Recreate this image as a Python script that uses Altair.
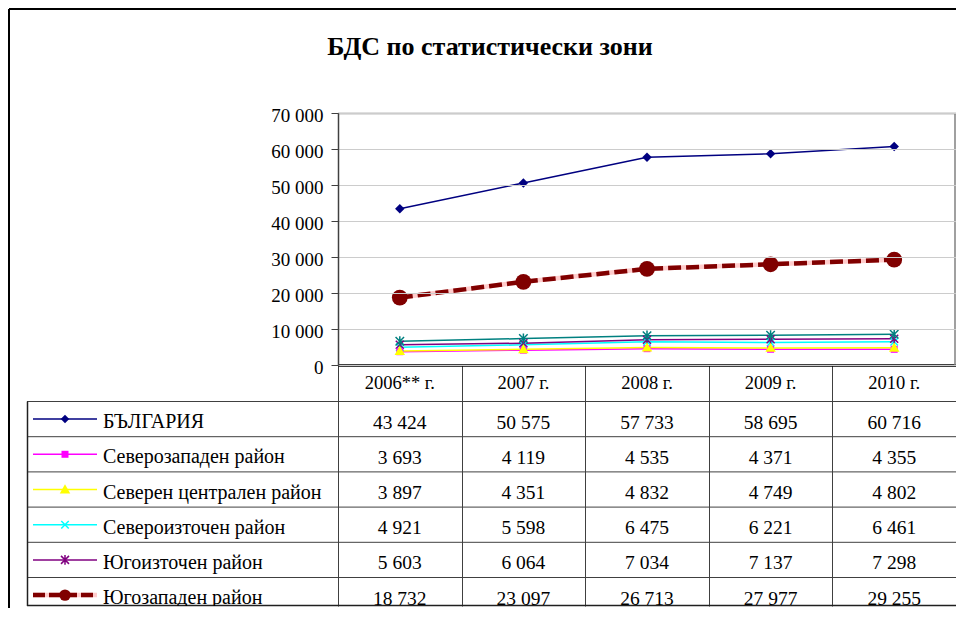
import altair as alt
import pandas as pd

FONT = "Liberation Serif"

title_text = "БДС по статистически зони"
year_labels = ["2006** г.", "2007 г.", "2008 г.", "2009 г.", "2010 г."]
series_names = [
    "БЪЛГАРИЯ",
    "Северозападен район",
    "Северен централен район",
    "Североизточен район",
    "Югоизточен район",
    "Югозападен район",
    "Южен централен район",
]
bulgaria = [43424, 50575, 57733, 58695, 60716]
severozapaden = [3693, 4119, 4535, 4371, 4355]
severen_centralen = [3897, 4351, 4832, 4749, 4802]
severoiztochen = [4921, 5598, 6475, 6221, 6461]
yugoiztochen = [5603, 6064, 7034, 7137, 7298]
yugozapaden = [18732, 23097, 26713, 27977, 29255]
yuzhen_centralen = [6578, 7346, 8144, 8240, 8545]

colors = ["#000080", "#FF00FF", "#FFFF00", "#00FFFF", "#800080", "#800000", "#008080"]

diamond = "M0,-1L1,0L0,1L-1,0Z"
square = "M-1,-1L1,-1L1,1L-1,1Z"
triangle = "M0,-1L1,0.75L-1,0.75Z"
xmark = "M-1,-1L1,1M-1,1L1,-1"
star = "M-1,-1L1,1M-1,1L1,-1M0,-1.2L0,1.2"
shapes = [diamond, square, triangle, xmark, star, "circle", star]
plot_sizes = [90, 49, 110, 56, 64, 250, 72]
legend_sizes = [72, 49, 110, 56, 64, 130, 64]

filled_series = [series_names[i] for i in (0, 1, 2, 5)]
stroked_series = [series_names[i] for i in (3, 4, 6)]
SW = series_names[5]

all_values = [bulgaria, severozapaden, severen_centralen, severoiztochen,
              yugoiztochen, yugozapaden, yuzhen_centralen]
rows = []
for name, vals in zip(series_names, all_values):
    for yl, v in zip(year_labels, vals):
        rows.append({"series": name, "year": yl, "value": v,
                     "label": f"{v:,}".replace(",", " ")})
df = pd.DataFrame(rows)
series_df = pd.DataFrame({"series": series_names})
years_df = pd.DataFrame({"year": year_labels})
one = pd.DataFrame({"a": [0]})
title_df = pd.DataFrame({"t": [title_text]})

# layout (view origin = top-left corner of the table's legend column)
W, H = 929, 493
PX0 = 311          # plot area left
PH = 252           # plot area height
ROW0, ROWH = 288.5, 35.2

XS = alt.Scale(type="band", domain=year_labels, range=[PX0, W], paddingInner=0, paddingOuter=0)
x_axis = alt.Axis(orient="bottom", offset=-(H - PH), labels=False, title=None, grid=False,
                  tickBand="extent", tickSize=H - PH, tickColor="#404040", tickWidth=1,
                  domainColor="#000000", domainWidth=2.5)
X = alt.X("year:N", scale=XS, axis=x_axis, title=None)

YS = alt.Scale(domain=[0, 70000], range=[PH, 0], nice=False)
y_axis = alt.Axis(orient="left", offset=-PX0, values=list(range(0, 70001, 10000)),
                  tickSize=7, tickColor="#404040", tickWidth=1,
                  domainColor="#404040", domainWidth=1.5,
                  grid=True, gridColor="#cccccc", gridWidth=1,
                  labelFont=FONT, labelFontSize=19, labelColor="black", labelPadding=8,
                  labelOffset=2, zindex=1,
                  labelExpr="replace(format(datum.value, ','), ',', ' ')", title=None)
Y = alt.Y("value:Q", scale=YS, axis=y_axis, title=None)

TY = alt.Scale(type="band", domain=series_names, range=[ROW0, ROW0 + 7 * ROWH],
               paddingInner=0, paddingOuter=0)
TYe = alt.Y("series:N", scale=TY, axis=None)

C = alt.Color("series:N", scale=alt.Scale(domain=series_names, range=colors), legend=None)
SH = alt.Shape("series:N", scale=alt.Scale(type="ordinal", domain=series_names, range=shapes), legend=None)
SZp = alt.Size("series:N", scale=alt.Scale(type="ordinal", domain=series_names, range=plot_sizes), legend=None)
SZl = alt.Size("series:N", scale=alt.Scale(type="ordinal", domain=series_names, range=legend_sizes), legend=None)

base = alt.Chart(df)

frame_top = alt.Chart(one).mark_rule(color="#808080", strokeWidth=1.5).encode(
    x=alt.value(PX0), x2=alt.value(W), y=alt.value(0.5))
frame_right = alt.Chart(one).mark_rule(color="#808080", strokeWidth=1.5).encode(
    x=alt.value(W - 1), y=alt.value(0), y2=alt.value(PH))

lines = base.transform_filter(alt.datum.series != SW).mark_line(strokeWidth=1.5).encode(
    x=X, y=Y, color=C, detail="series:N")
sw_under = base.transform_filter(alt.datum.series == SW).mark_line(
    color="#FFCCCC", strokeWidth=4.5).encode(x=X, y=Y)
sw_dash = base.transform_filter(alt.datum.series == SW).mark_line(
    color="#800000", strokeWidth=4.5, strokeDash=[13, 5]).encode(x=X, y=Y)
pts_f = base.transform_filter(alt.FieldOneOfPredicate(field="series", oneOf=filled_series)).mark_point(
    filled=True, opacity=1, strokeWidth=0).encode(x=X, y=Y, color=C, shape=SH, size=SZp)
pts_s = base.transform_filter(alt.FieldOneOfPredicate(field="series", oneOf=stroked_series)).mark_point(
    filled=False, opacity=1, strokeWidth=1.5).encode(x=X, y=Y, color=C, shape=SH, size=SZp)

plot = alt.layer(frame_top, frame_right, lines, sw_under, sw_dash, pts_s, pts_f)

sbase = alt.Chart(series_df)
row_lines = sbase.mark_rule(color="#404040", strokeWidth=1, clip=True).encode(
    y=alt.Y("series:N", scale=TY, axis=None, bandPosition=0), x=alt.value(0), x2=alt.value(W))
left_border = alt.Chart(one).mark_rule(color="#202020", strokeWidth=1.5).encode(
    x=alt.value(0.5), y=alt.value(ROW0), y2=alt.value(H))
bottom_border = alt.Chart(one).mark_rule(color="#202020", strokeWidth=1.5).encode(
    x=alt.value(0), x2=alt.value(W), y=alt.value(H - 0.5))
key_lines = sbase.transform_filter(alt.datum.series != SW).mark_rule(strokeWidth=1.5, clip=True).encode(
    x=alt.value(6), x2=alt.value(70), y=TYe, color=C)
key_sw_under = sbase.transform_filter(alt.datum.series == SW).mark_rule(
    color="#FFCCCC", strokeWidth=4.5, clip=True).encode(x=alt.value(6), x2=alt.value(70), y=TYe)
key_sw_dash = sbase.transform_filter(alt.datum.series == SW).mark_rule(
    color="#800000", strokeWidth=4.5, strokeDash=[12, 4], clip=True).encode(
    x=alt.value(6), x2=alt.value(70), y=TYe)
key_pts_f = sbase.transform_filter(alt.FieldOneOfPredicate(field="series", oneOf=filled_series)).mark_point(
    filled=True, opacity=1, strokeWidth=0, clip=True).encode(
    x=alt.value(38), y=TYe, color=C, shape=SH, size=SZl)
key_pts_s = sbase.transform_filter(alt.FieldOneOfPredicate(field="series", oneOf=stroked_series)).mark_point(
    filled=False, opacity=1, strokeWidth=1.5, clip=True).encode(
    x=alt.value(38), y=TYe, color=C, shape=SH, size=SZl)
key_text = sbase.mark_text(align="left", baseline="middle", font=FONT, fontSize=20,
                           color="black", clip=True, dy=3).encode(
    x=alt.value(76), y=TYe, text="series:N")
num_text = base.mark_text(align="center", baseline="middle", font=FONT, fontSize=19.5,
                          color="black", clip=True, dy=3.5).encode(
    x=X, y=TYe, text="label:N")
header_text = alt.Chart(years_df).mark_text(align="center", baseline="middle", font=FONT,
                                            fontSize=18.5, color="black").encode(
    x=X, y=alt.value(PH + 18), text="year:N")

table = alt.layer(row_lines, left_border, bottom_border, key_sw_under, key_sw_dash, key_lines,
                  key_pts_s, key_pts_f, key_text, num_text, header_text)

outer_top = alt.Chart(one).mark_rule(color="#000000", strokeWidth=2).encode(
    x=alt.value(-18), x2=alt.value(W), y=alt.value(-104))
outer_left = alt.Chart(one).mark_rule(color="#000000", strokeWidth=2).encode(
    x=alt.value(-18), y=alt.value(-104), y2=alt.value(H + 2))
title_mark = alt.Chart(title_df).mark_text(align="center", baseline="alphabetic", font=FONT,
                                           fontSize=26, fontWeight="bold", color="black").encode(
    x=alt.value(463), y=alt.value(-58), text="t:N")

# mask the stray light frame of the cell in the empty corner left of the plot
mask_h = alt.Chart(one).mark_rule(color="white", strokeWidth=3).encode(
    x=alt.value(-1.5), x2=alt.value(PX0 - 8), y=alt.value(0))
mask_v = alt.Chart(one).mark_rule(color="white", strokeWidth=3).encode(
    x=alt.value(0), y=alt.value(-1.5), y2=alt.value(ROW0 - 1))

no_stroke = alt.ViewBackground(stroke="transparent", strokeWidth=0, fill="transparent")

chart = alt.layer(plot, table, outer_top, outer_left, title_mark, mask_h, mask_v).resolve_scale(
    y="independent", size="independent"
).properties(
    width=W, height=H,
    background="white",
    view=no_stroke,
    autosize=alt.AutoSizeParams(type="none"),
    padding={"left": 19, "top": 105, "right": 0, "bottom": 2},
).configure(
    view=alt.ViewConfig(stroke="transparent", strokeWidth=0),
    style={"cell": {"stroke": "transparent", "strokeWidth": 0}},
)

chart.save("out.html", embed_options={"renderer": "svg", "actions": False})
